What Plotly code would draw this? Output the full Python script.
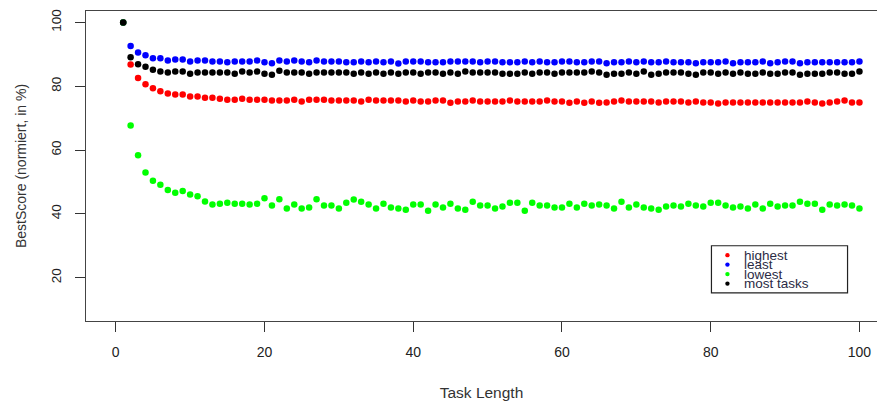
import plotly.graph_objects as go

# ---------------- data ----------------
task_length = list(range(1, 101))

highest = [100,
    86.8, 82.6, 80.6, 79.4, 78.4, 77.7, 77.4, 77.4, 76.8, 76.8, 76.4, 76.4, 76.1,
    75.8, 75.8, 76.1, 75.8, 75.8, 75.8, 75.5, 75.5, 75.5, 75.8, 75.2, 75.8, 75.8,
    75.8, 75.5, 75.5, 75.5, 75.5, 75.2, 75.8, 75.5, 75.5, 75.5, 75.5, 75.2, 75.5,
    75.2, 75.2, 75.5, 75.5, 74.8, 75.2, 75.2, 75.5, 75.2, 75.2, 75.2, 75.2, 75.5,
    75.2, 75.2, 75.2, 75.2, 75.5, 75.2, 75.2, 74.8, 75.2, 74.8, 75.2, 74.8,
    74.9, 75.2, 75.5, 75.2, 75.2, 75.2, 75.2, 74.9, 75.2, 75.2, 75.2, 74.9, 75.2,
    74.9, 74.9, 74.6, 74.9, 74.9, 74.9, 74.9, 74.9, 74.9, 74.9, 74.9, 74.9, 74.9,
    74.9, 75.2, 74.9, 74.6, 74.9, 75.2, 75.5, 74.9, 74.9]

least = [100,
    92.6, 90.6, 89.7, 88.8, 88.8, 88.1, 88.4, 88.4, 87.8, 88.1, 88.1, 87.8, 87.8,
    87.5, 87.8, 87.8, 87.8, 88.1, 87.5, 87.2, 88.1, 87.8, 88.1, 87.8, 87.5, 88.1,
    87.8, 87.8, 87.8, 87.5, 87.5, 87.8, 87.5, 87.8, 87.5, 87.8, 87.1, 87.8, 87.8,
    87.8, 87.5, 87.5, 87.5, 87.8, 87.8, 87.8, 87.8, 87.5, 87.8, 87.8, 87.5, 87.5,
    87.5, 87.8, 87.5, 87.8, 87.5, 87.5, 87.8, 87.8, 87.5, 87.5, 87.8, 87.8,
    87.2, 87.5, 87.5, 87.8, 87.5, 87.8, 87.5, 87.5, 87.8, 87.5, 87.5, 87.5, 87.2,
    87.5, 87.5, 87.5, 87.8, 87.2, 87.5, 87.5, 87.5, 87.8, 87.2, 87.5, 87.8, 87.8,
    87.2, 87.5, 87.5, 87.5, 87.5, 87.5, 87.5, 87.5, 87.8]

lowest = [100,
    67.7, 58.4, 53.0, 50.4, 49.1, 47.5, 46.6, 47.2, 46.1, 45.5, 43.9, 42.9, 43.2,
    43.5, 43.2, 43.2, 42.9, 43.2, 44.9, 42.6, 44.6, 41.7, 42.9, 41.7, 42.0, 44.6,
    42.6, 42.6, 41.7, 43.5, 44.5, 43.8, 42.9, 41.7, 43.2, 42.0, 41.7, 41.3, 42.9,
    42.9, 41.0, 42.9, 42.0, 43.2, 41.7, 41.3, 43.8, 42.6, 42.6, 41.7, 42.3, 43.5,
    43.5, 41.0, 43.5, 42.6, 42.6, 42.0, 42.0, 43.2, 42.0, 43.2, 42.6, 42.9,
    42.6, 41.7, 43.8, 42.0, 42.9, 42.0, 41.7, 41.3, 42.3, 42.6, 42.3, 43.2, 42.6,
    42.3, 43.5, 43.5, 42.6, 42.0, 42.3, 41.7, 42.9, 41.7, 43.2, 42.3, 42.6, 42.6,
    43.8, 43.2, 43.2, 41.3, 42.9, 42.6, 42.9, 42.6, 41.7]

most_tasks = [100,
    89.1, 86.9, 86.1, 85.2, 84.6, 84.3, 84.6, 84.6, 83.9, 84.3, 84.3, 84.3, 84.3,
    84.3, 83.9, 84.6, 84.3, 84.6, 83.9, 83.6, 84.9, 84.3, 84.3, 84.3, 83.9, 84.3,
    84.3, 84.3, 84.3, 84.3, 83.9, 84.3, 83.9, 84.3, 83.9, 84.3, 83.9, 84.3, 84.3,
    83.9, 84.3, 84.3, 83.9, 84.3, 83.9, 84.6, 84.3, 84.3, 84.3, 84.3, 83.9, 83.9,
    83.9, 84.3, 83.9, 84.3, 84.3, 83.9, 84.3, 84.3, 84.3, 84.3, 84.6, 84.3,
    83.6, 83.9, 83.9, 84.3, 83.9, 84.6, 83.6, 83.9, 84.3, 84.3, 84.3, 83.9, 83.6,
    84.3, 84.3, 83.9, 84.3, 83.9, 84.3, 83.9, 83.9, 84.3, 83.9, 83.9, 84.3, 84.3,
    83.6, 83.9, 83.9, 83.9, 84.3, 84.3, 83.9, 83.9, 84.6]

series_names = ["highest", "least", "lowest", "most tasks"]
series_values = [highest, least, lowest, most_tasks]
series_colors = ["#FF0000", "#0000FF", "#00FF00", "#000000"]

x_ticks = [0, 20, 40, 60, 80, 100]
y_ticks = [20, 40, 60, 80, 100]
x_title = "Task Length"
y_title = "BestScore (normiert, in %)"

# legend placement (data coordinates, top-left like R's legend(80, 30, ...))
legend_left, legend_top = 80.1, 30.0
legend_right, legend_bottom = 98.4, 15.2
legend_rows = [27.05, 24.08, 21.1, 18.13]
legend_dot_x = 82.25
legend_text_x = 84.3

FONT = "Liberation Sans, Arial, sans-serif"

fig = go.Figure()
for name, vals, col in zip(series_names, series_values, series_colors):
    fig.add_trace(go.Scatter(
        x=task_length[:len(vals)], y=vals, mode="markers", name=name,
        marker=dict(color=col, size=6.5, line=dict(width=0)),
        showlegend=False, cliponaxis=False))

shapes = [dict(type="rect", xref="x", yref="y",
               x0=legend_left, x1=legend_right, y0=legend_bottom, y1=legend_top,
               line=dict(color="#222222", width=1.2), fillcolor="rgba(0,0,0,0)")]
annotations = []
for name, col, ry in zip(series_names, series_colors, legend_rows):
    shapes.append(dict(type="circle", xref="x", yref="y",
                       xsizemode="pixel", ysizemode="pixel",
                       xanchor=legend_dot_x, yanchor=ry,
                       x0=-2.2, x1=2.2, y0=-2.2, y1=2.2,
                       fillcolor=col, line=dict(width=0)))
    annotations.append(dict(x=legend_text_x, y=ry, xref="x", yref="y",
                            text=name, showarrow=False, xanchor="left",
                            yanchor="middle", borderpad=0,
                            font=dict(family=FONT, size=13.5, color="#2b2b45")))

fig.update_layout(
    width=877, height=403,
    margin=dict(l=86, r=0, t=11, b=82, autoexpand=False),
    paper_bgcolor="white", plot_bgcolor="white",
    font=dict(family=FONT, color="#222222"),
    shapes=shapes, annotations=annotations,
    xaxis=dict(range=[-4, 102.36], tickvals=x_ticks, ticks="outside",
               ticklen=10, tickwidth=1, tickcolor="#333333",
               showline=True, linecolor="#444444", linewidth=1.3, mirror=True,
               showgrid=False, zeroline=False, automargin=False,
               tickfont=dict(size=14, color="#222222"), ticklabelstandoff=8,
               title=dict(text=x_title, font=dict(size=15.5, color="#333333"),
                          standoff=28)),
    yaxis=dict(range=[6.4, 103.6], tickvals=y_ticks, ticks="outside",
               ticklen=10, tickwidth=1, tickcolor="#333333",
               showline=True, linecolor="#444444", linewidth=1.3,
               showgrid=False, zeroline=False, automargin=False,
               tickangle=-90, tickfont=dict(size=13.5, color="#222222"),
               ticklabelstandoff=8,
               title=dict(text=y_title, font=dict(size=14, color="#333333"),
                          standoff=19)),
)

fig.write_html("out.html")
